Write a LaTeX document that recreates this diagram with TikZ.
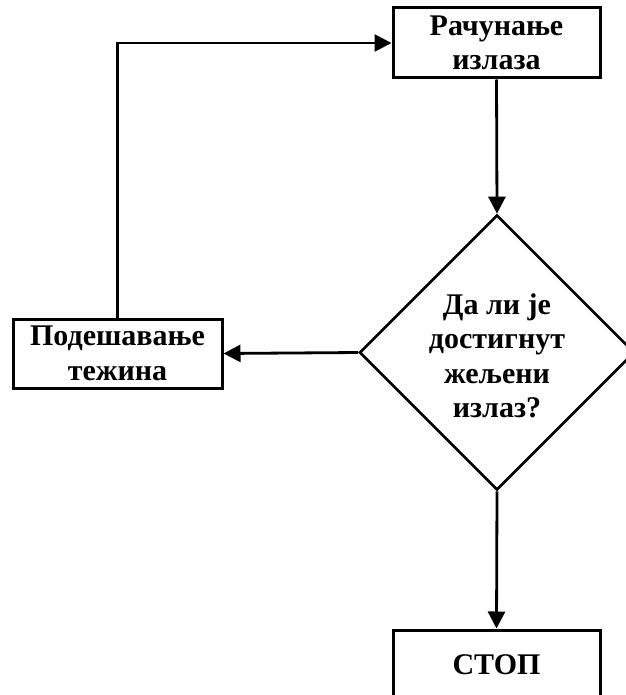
\documentclass[tikz,border=0pt]{standalone}
\usepackage{fontspec}
\setmainfont{Liberation Serif}
\usetikzlibrary{shapes.geometric,arrows.meta}
\begin{document}
\begin{tikzpicture}[x=1pt,y=-1pt,
  every node/.style={font=\fontsize{30}{34.5}\selectfont\bfseries, align=center},
  procbox/.style={draw, line width=3pt, rectangle, inner sep=0pt},
  decbox/.style={draw, line width=2.6pt, diamond, inner sep=0pt,
    minimum width=275pt, minimum height=275pt},
  flow/.style={line width=2.8pt, -{Triangle[length=17pt,width=17pt]}}]
\useasboundingbox (0,0) rectangle (625,695);
% process steps
\node[procbox, minimum width=207pt, minimum height=70pt] (calc) at (496.5,43) {Рачунање\\излаза};
\node[procbox, minimum width=209pt, minimum height=69pt] (adjust) at (117.5,353.5) {Подешавање\\тежина};
\node[procbox, minimum width=207pt, minimum height=70pt] (stop) at (496.5,665) {СТОП};
% decision
\node[decbox] (dec) at (497,352.5) {};
\node (dectext) at (497,356) {Да ли је\\достигнут\\жељени\\излаз?};
% connectors
\draw[flow] (calc.south) -- (dec.north);
\draw[flow] (dec.west) -- (adjust.east);
\draw[flow] (adjust.north) |- (calc.west);
\draw[flow] (dec.south) -- (stop.north);
\end{tikzpicture}
\end{document}
